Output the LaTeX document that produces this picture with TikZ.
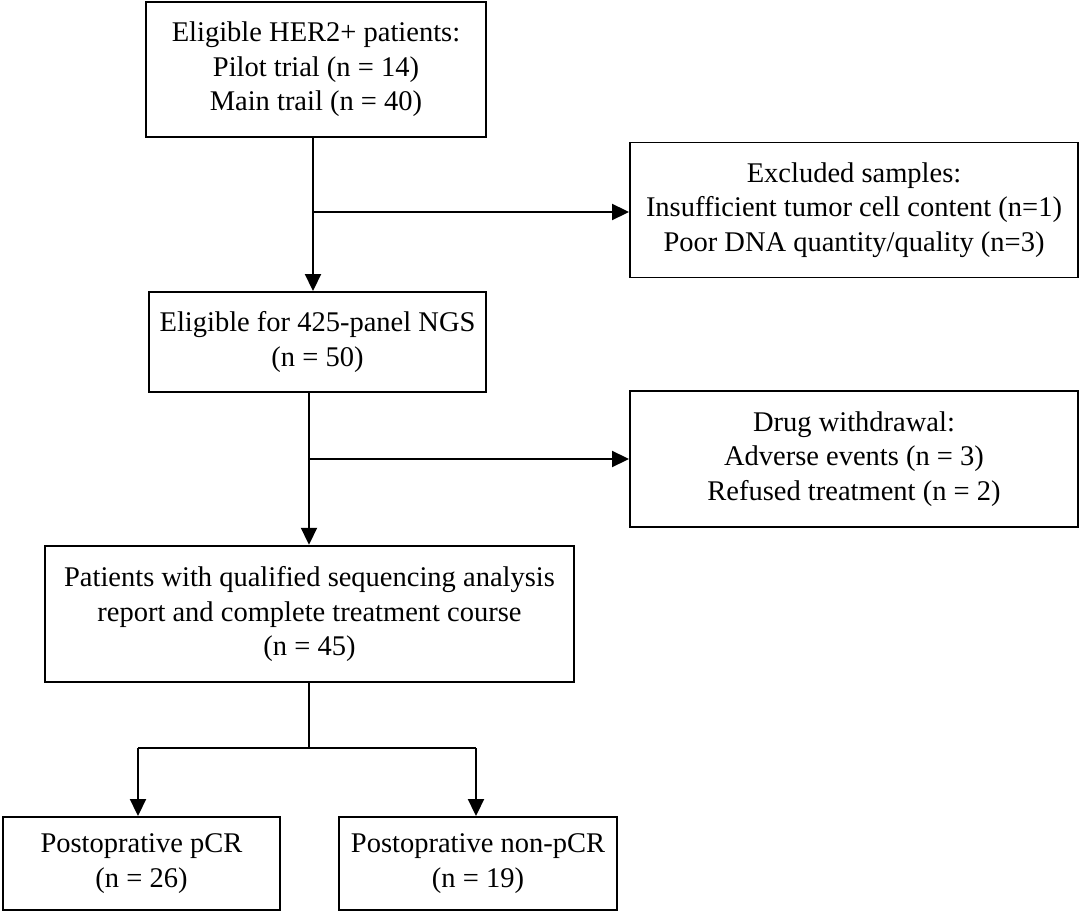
\documentclass[tikz,border=0pt]{standalone}
\usepackage{fontspec}
\setmainfont{Liberation Serif}
\usetikzlibrary{arrows.meta}
\begin{document}
\begin{tikzpicture}[x=1pt,y=-1pt,
  box/.style={draw, line width=1.9pt, inner sep=0pt, align=center,
    font=\fontsize{28.5}{34.5}\selectfont},
  conn/.style={line width=1.9pt},
  arr/.style={conn, -{Triangle[length=17pt,width=16pt]}}]
\useasboundingbox (0,0) rectangle (1080,912);
\fill[white] (0,0) rectangle (1080,912);

\node[box, minimum width=340pt, minimum height=135pt] (b1) at (316,69.5)
  {Eligible HER2+ patients:\\Pilot trial (n = 14)\\Main trail (n = 40)};
\node[box, minimum width=448pt, minimum height=135pt] (b2) at (854,210)
  {Excluded samples:\\Insufficient tumor cell content (n=1)\\Poor DNA quantity/quality (n=3)};
\node[box, minimum width=337pt, minimum height=100pt] (b3) at (317.5,342)
  {Eligible for 425-panel NGS\\(n = 50)};
\node[box, minimum width=448pt, minimum height=136pt] (b4) at (854,459)
  {Drug withdrawal:\\Adverse events (n = 3)\\Refused treatment (n = 2)};
\node[box, minimum width=529pt, minimum height=136.5pt] (b5) at (309.5,614)
  {Patients with qualified sequencing analysis\\report and complete treatment course\\(n = 45)};
\node[box, minimum width=277pt, minimum height=93pt] (b6) at (141.5,863.5)
  {Postoprative pCR\\(n = 26)};
\node[box, minimum width=278pt, minimum height=93pt] (b7) at (478,863.5)
  {Postoprative non-pCR\\(n = 19)};

\coordinate (j1) at (313,212);
\coordinate (j2) at (309,459);
\coordinate (j3) at (309,748);
\coordinate (a6) at (138,748);
\coordinate (a7) at (476,748);

\draw[arr] (j1 |- b1.south) -- (j1 |- b3.north);
\draw[arr] (j1) -- (j1 -| b2.west);
\draw[arr] (j2 |- b3.south) -- (j2 |- b5.north);
\draw[arr] (j2) -- (j2 -| b4.west);
\draw[conn] (j3 |- b5.south) -- (j3);
\draw[conn] (a6) -- (a7);
\draw[arr] (a6) -- (a6 |- b6.north);
\draw[arr] (a7) -- (a7 |- b7.north);
\end{tikzpicture}
\end{document}
